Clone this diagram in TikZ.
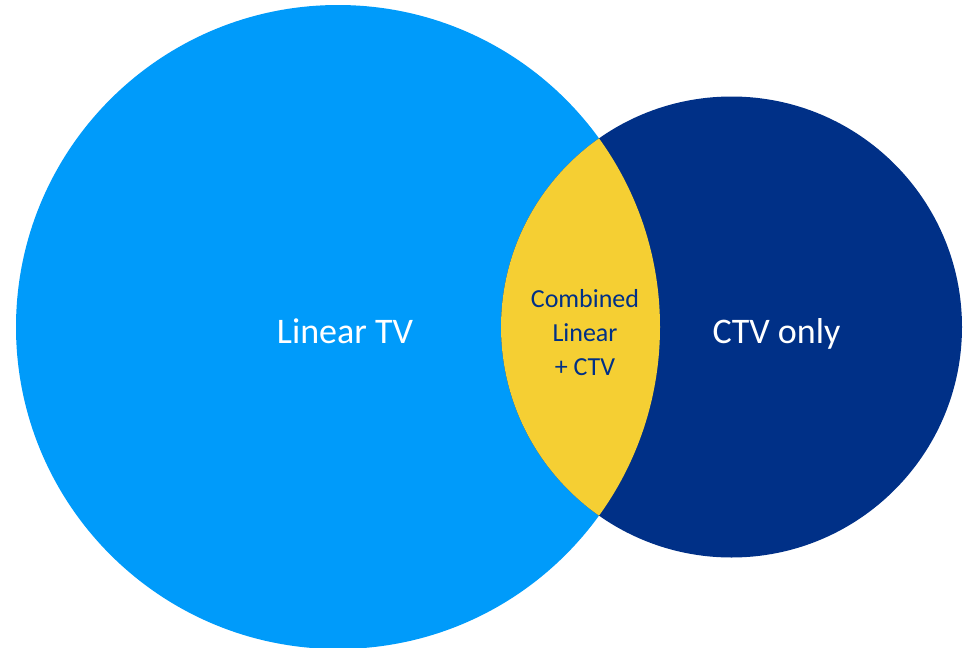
\documentclass[tikz,border=0pt]{standalone}
\usepackage{fontspec}
\setmainfont{Carlito}
\usepackage{xcolor}
\usepackage{tikz}
\definecolor{azzurro}{HTML}{009BFA}
\definecolor{blu}{HTML}{003087}
\definecolor{giallo}{HTML}{F5CF33}

\begin{document}
\begin{tikzpicture}[x=1pt, y=-1pt]
        \useasboundingbox (0,0) rectangle (964,648);
        \coordinate (Lin) at (338,327);
        \coordinate (Ctv) at (731.5,327);
        % cerchi
        \fill[azzurro] (Lin) circle (322pt);
        \fill[blu] (Ctv) circle (230.5pt);
        % intersezione
        \begin{scope}
            \clip (Ctv) circle (230.5pt);
            \fill[giallo] (Lin) circle (322pt);
        \end{scope}
        % etichette
        \node[white, anchor=base, inner sep=0pt] (linear) at (345,343) {\fontsize{36}{43}\selectfont Linear TV};
        \node[white, anchor=base, inner sep=0pt] (ctvonly) at (776.5,343) {\fontsize{36}{43}\selectfont CTV only};
        \node[blu, align=center, inner sep=0pt, font=\fontsize{26}{34}\selectfont] (both) at (585,333) {Combined\\Linear\\+ CTV};
    \end{tikzpicture}
\end{document}
